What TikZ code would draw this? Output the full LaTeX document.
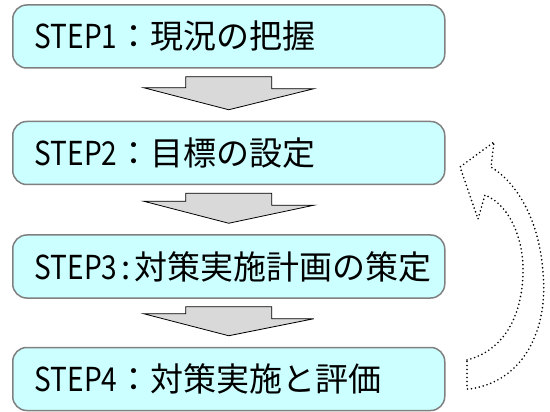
\documentclass[tikz,border=0pt]{standalone}
\usepackage{graphicx}
\usepackage{fontspec}
\newfontfamily\jpfont{Noto Sans CJK JP}
\newcommand\steptag[1]{\scalebox{0.85}[1]{STEP#1}}
\definecolor{boxfill}{HTML}{CCFFFF}
\definecolor{boxline}{HTML}{808080}
\definecolor{arrowfill}{HTML}{D9D9D9}
\begin{document}
\begin{tikzpicture}
  [x=1pt,y=-1pt,
   stepbox/.style={draw=boxline, line width=1.5pt, fill=boxfill, rounded corners=14pt,
     anchor=west, inner xsep=22pt, minimum height=63pt,
     font=\jpfont\fontsize{33}{38}\selectfont},
   blockarrow/.style={draw=black, line width=0.8pt, fill=arrowfill},
   backloop/.style={draw=black, line width=1.8pt, line cap=round, dash pattern=on 0pt off 4pt}]
  \useasboundingbox (0,0) rectangle (550,412);
  \node[stepbox] (s1) at (12,36.5) {\makebox[388pt][l]{\steptag{1}：現況の把握}};
  \node[stepbox] (s2) at (12,153)  {\makebox[388pt][l]{\steptag{2}：目標の設定}};
  \node[stepbox] (s3) at (12,266.5) {\makebox[388pt][l]{\steptag{3}\makebox[17pt]{:}対策実施計画の策定}};
  \node[stepbox] (s4) at (12,379)  {\makebox[388pt][l]{\steptag{4}：対策実施と評価}};

  \foreach \a/\b in {s1/s2,s2/s3,s3/s4}
    \draw[blockarrow] ([shift={(-43,8)}]\a.south) -- ++(86,0) -- ++(0,12) -- ++(42,0)
      -- ([shift={(0,-11)}]\b.north) -- ++(-85,-22) -- ++(42,0) -- cycle;

  \draw[backloop] (467,360) .. controls (505,350) and (522,315) .. (523,273)
    .. controls (524,240) and (510,205) .. (485,195)
    -- (478,219) -- (460,167) -- (494,142) -- (491,167)
    .. controls (520,185) and (540,225) .. (543,273)
    .. controls (548,320) and (530,380) .. (470,389) -- (467,389) -- cycle;
\end{tikzpicture}
\end{document}
